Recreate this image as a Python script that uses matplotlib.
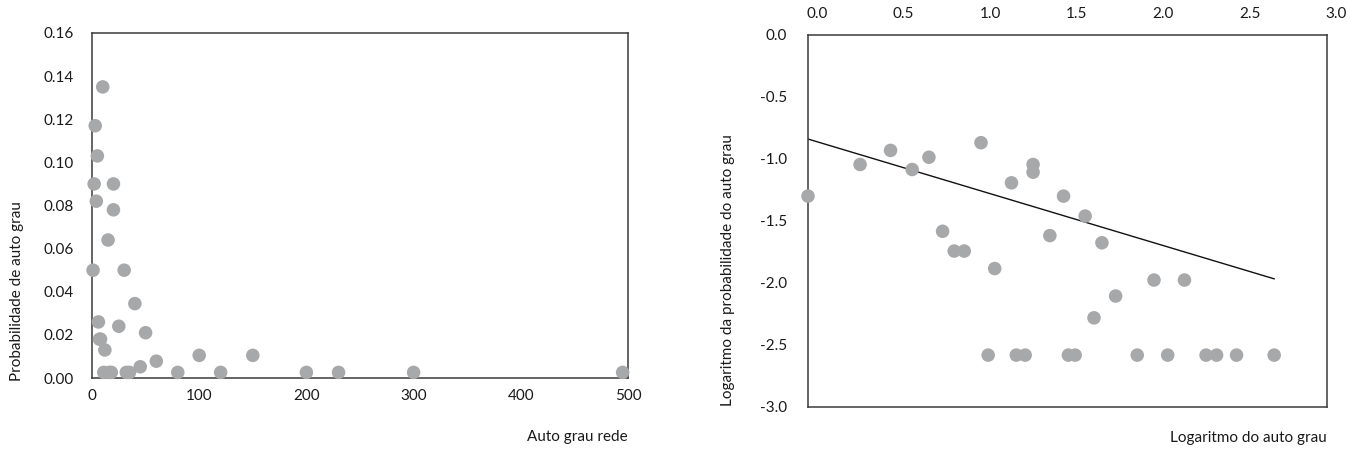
import numpy as np
import matplotlib
matplotlib.use("Agg")
import matplotlib.pyplot as plt
from matplotlib.ticker import FormatStrFormatter
from matplotlib.transforms import ScaledTranslation

plt.rcParams["font.family"] = ["Lato", "DejaVu Sans"]
plt.rcParams["axes.unicode_minus"] = False

# self degree (grau) and its probability
grau = [1, 2, 3, 4, 5, 6, 7, 8, 10, 11, 12, 15, 16, 18, 20, 20, 25, 30, 32, 35,
        40, 45, 50, 60, 80, 100, 120, 150, 200, 230, 300, 495]
prob = [0.050, 0.090, 0.117, 0.082, 0.103, 0.026, 0.018, 0.018, 0.135, 0.0026,
        0.013, 0.064, 0.0026, 0.0026, 0.090, 0.078, 0.024, 0.050, 0.0026, 0.0026,
        0.0345, 0.0052, 0.021, 0.0078, 0.0026, 0.0105, 0.0026, 0.0105, 0.0026,
        0.0026, 0.0026, 0.0026]

# linear trend drawn on the log-log panel
fit_intercept = -0.84
fit_slope = -0.419

left_xticks = [0, 100, 200, 300, 400, 500]
left_yticks = [0.00, 0.02, 0.04, 0.06, 0.08, 0.10, 0.12, 0.14, 0.16]
right_xticks = [0.0, 0.5, 1.0, 1.5, 2.0, 2.5, 3.0]
right_yticks = [0.0, -0.5, -1.0, -1.5, -2.0, -2.5, -3.0]

DOT = "#a7a8aa"
EDGE = "#3a3a3a"
TXT = "#1a1a1a"
FS = 11
W, H = 1350, 450

fig = plt.figure(figsize=(13.5, 4.5), dpi=100)
ax1 = fig.add_axes([92 / W, 1 - 378 / H, (628 - 92) / W, (378 - 33) / H])
ax2 = fig.add_axes([808 / W, 1 - 406.5 / H, (1327 - 808) / W, (406.5 - 35) / H])

for ax in (ax1, ax2):
    for sp in ax.spines.values():
        sp.set_color(EDGE)
        sp.set_linewidth(1.1)
    ax.tick_params(length=0, labelsize=FS, colors=TXT)

# ---- left: linear scale
ax1.scatter(grau, prob, s=95, c=DOT, edgecolors="none", clip_on=False, zorder=3)
ax1.set_xlim(0, 500)
ax1.set_ylim(0, 0.16)
ax1.set_xticks(left_xticks)
ax1.set_yticks(left_yticks)
ax1.yaxis.set_major_formatter(FormatStrFormatter("%.2f"))
ax1.tick_params(axis="x", pad=8)
ax1.tick_params(axis="y", pad=13)
fig.text(628 / W, 1 - 437 / H, "Auto grau rede", ha="right", va="center",
         fontsize=FS, color=TXT)
fig.text(17 / W, 1 - 381 / H, "Probabilidade de auto grau", rotation=90,
         ha="center", va="bottom", fontsize=FS, color=TXT)

# ---- right: log10 of both
lx = np.log10(grau)
ly = np.log10(prob)
ax2.scatter(lx, ly, s=95, c=DOT, edgecolors="none", clip_on=False, zorder=3)
xs = np.array([0.0, lx.max()])
ax2.plot(xs, fit_intercept + fit_slope * xs, color="#111111", lw=1.0, zorder=2)
ax2.set_xlim(0, 3.0)
ax2.set_ylim(-3.0, 0.0)
ax2.set_xticks(right_xticks)
ax2.set_yticks(right_yticks)
ax2.xaxis.set_major_formatter(FormatStrFormatter("%.1f"))
ax2.yaxis.set_major_formatter(FormatStrFormatter("%.1f"))
ax2.xaxis.tick_top()
ax2.tick_params(axis="x", pad=10)
ax2.tick_params(axis="y", pad=15)
shift = ScaledTranslation(9 / 100, 0, fig.dpi_scale_trans)
for lab in ax2.get_xticklabels():
    lab.set_transform(lab.get_transform() + shift)
fig.text(1327 / W, 1 - 438 / H, "Logaritmo do auto grau", ha="right", va="center",
         fontsize=FS, color=TXT)
fig.text(728 / W, 1 - 406 / H, "Logaritmo da probabilidade do auto grau", rotation=90,
         ha="center", va="bottom", fontsize=FS, color=TXT)

fig.savefig("out.png", dpi=100)
